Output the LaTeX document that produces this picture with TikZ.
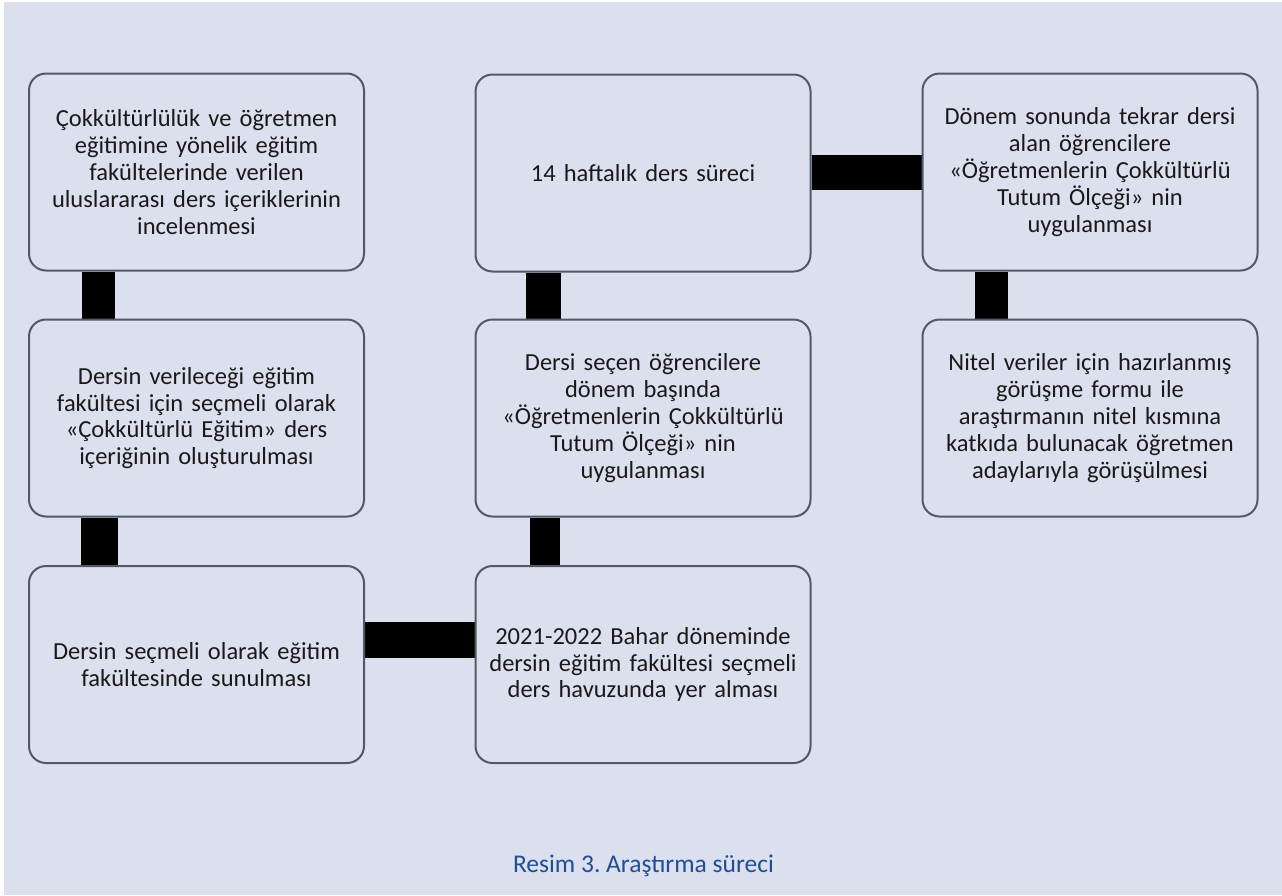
\documentclass[tikz,border=0pt]{standalone}
\usepackage{fontspec}
\setmainfont{Carlito}
\frenchspacing
\pgfdeclarelayer{bg}
\pgfsetlayers{bg,main}
\definecolor{bgcol}{HTML}{DCE0EE}
\definecolor{edgecol}{HTML}{4F596B}
\definecolor{capcol}{HTML}{1F4E96}
\tikzset{
  stepbox/.style={draw=edgecol, line width=2pt, fill=bgcol, rounded corners=17pt,
    minimum width=335pt, minimum height=197pt, text width=330pt, align=center,
    inner sep=0pt, font=\fontsize{24.5pt}{26.8pt}\selectfont, text=black!90},
  bar/.style={draw=black, line width=#1, line cap=butt},
}
\begin{document}
\begin{tikzpicture}[x=1pt,y=-1pt]
\useasboundingbox (0,0) rectangle (1282,895);

\node[stepbox] (A1) at (196.5,172) {Çokkültürlülük ve öğretmen\\ eğitimine yönelik eğitim\\ fakültelerinde verilen\\ uluslararası ders içeriklerinin\\ incelenmesi};
\node[stepbox] (A2) at (196.5,418) {Dersin verileceği eğitim\\ fakültesi için seçmeli olarak\\ «Çokkültürlü Eğitim» ders\\ içeriğinin oluşturulması};
\node[stepbox] (A3) at (196.5,664.5) {Dersin seçmeli olarak eğitim\\ fakültesinde sunulması};
\node[stepbox] (B3) at (643,664.5) {2021-2022 Bahar döneminde\\ dersin eğitim fakültesi seçmeli\\ ders havuzunda yer alması};
\node[stepbox] (B2) at (643,418) {Dersi seçen öğrencilere\\ dönem başında\\ «Öğretmenlerin Çokkültürlü\\ Tutum Ölçeği» nin\\ uygulanması};
\node[stepbox] (B1) at (643,173) {14 haftalık ders süreci};
\node[stepbox] (C1) at (1090,172) {Dönem sonunda tekrar dersi\\ alan öğrencilere\\ «Öğretmenlerin Çokkültürlü\\ Tutum Ölçeği» nin\\ uygulanması};
\node[stepbox] (C2) at (1090,418) {Nitel veriler için hazırlanmış\\ görüşme formu ile\\ araştırmanın nitel kısmına\\ katkıda bulunacak öğretmen\\ adaylarıyla görüşülmesi};

\coordinate (xa1) at (98,0);
\coordinate (xa2) at (99.5,0);
\coordinate (xb3) at (545,0);
\coordinate (xb2) at (543,0);
\coordinate (xc1) at (991.5,0);
\coordinate (ya3) at (0,640);
\coordinate (yb1) at (0,172.5);

\begin{pgfonlayer}{bg}
\fill[white] (0,0) rectangle (1282,895);
\fill[bgcol] (4,2) rectangle (1282,895);
\draw[bar=33pt] (A1.south -| xa1) -- (A2.north -| xa1);
\draw[bar=37pt] (A2.south -| xa2) -- (A3.north -| xa2);
\draw[bar=36pt] (A3.east |- ya3) -- (B3.west |- ya3);
\draw[bar=30pt] (B3.north -| xb3) -- (B2.south -| xb3);
\draw[bar=35pt] (B2.north -| xb2) -- (B1.south -| xb2);
\draw[bar=35pt] (B1.east |- yb1) -- (C1.west |- yb1);
\draw[bar=33pt] (C1.south -| xc1) -- (C2.north -| xc1);
\end{pgfonlayer}

\node[text=capcol, font=\fontsize{25.5pt}{28pt}\selectfont] (cap) at (643.5,866) {Resim 3. Araştırma süreci};
\end{tikzpicture}
\end{document}
